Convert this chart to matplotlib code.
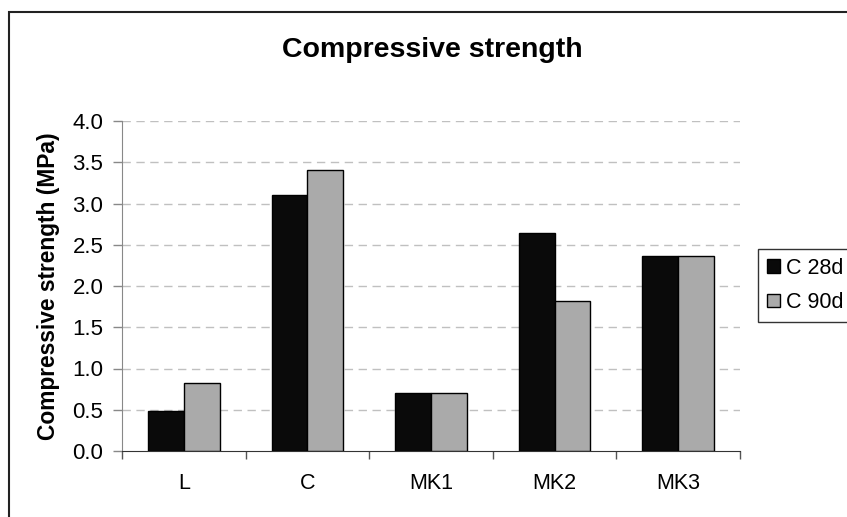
import matplotlib.pyplot as plt
from matplotlib.patches import Rectangle
import numpy as np

plt.rcParams['font.family'] = ['Liberation Sans', 'DejaVu Sans']

categories = ['L', 'C', 'MK1', 'MK2', 'MK3']
c28 = [0.49, 3.10, 0.70, 2.64, 2.36]
c90 = [0.82, 3.41, 0.70, 1.82, 2.36]
series_names = ['C 28d', 'C 90d']

fig = plt.figure(figsize=(8.47, 5.17), dpi=100)
ax = fig.add_axes([122 / 847, 1 - 451 / 517, 618 / 847, 330 / 517])

x = np.arange(len(categories))
w = 0.29
ax.bar(x - w / 2, c28, w, color='#0a0a0a', edgecolor='black', linewidth=1, label=series_names[0], zorder=3)
ax.bar(x + w / 2, c90, w, color='#aaaaaa', edgecolor='black', linewidth=1, label=series_names[1], zorder=3)

ax.set_xlim(-0.5, len(categories) - 0.5)
ax.set_ylim(0, 4.0)
yt = np.arange(0, 4.01, 0.5)
ax.set_yticks(yt)
ax.set_yticklabels([f'{v:.1f}' for v in yt], fontsize=16)
ax.set_xticks(x)
ax.set_xticklabels(categories, fontsize=15.5)
ax.tick_params(axis='x', length=0, pad=16)
ax.set_xticks(np.arange(-0.5, len(categories), 1), minor=True)
ax.tick_params(axis='x', which='minor', length=6, color='#555555', width=1)
ax.tick_params(axis='y', length=6.5, color='#888888', width=1, pad=7)

for v in yt[1:]:
    ax.axhline(v, color='#c0c0c0', linestyle=(0, (6, 4)), linewidth=1, zorder=1)

for s in ['top', 'right']:
    ax.spines[s].set_visible(False)
ax.spines['left'].set_color('#888888')
ax.spines['bottom'].set_color('#333333')

ax.set_ylabel('Compressive strength (MPa)', fontsize=16.4, fontweight='bold', labelpad=9)
fig.text(432 / 847, 1 - 50 / 517, 'Compressive strength', ha='center', va='center',
         fontsize=20.5, fontweight='bold')

# outer chart border (cut off on the right and bottom)
fig.patches.append(Rectangle((9 / 847, -0.1), 2, (517 - 12) / 517 + 0.1,
                             transform=fig.transFigure, fill=False,
                             edgecolor='#222222', linewidth=1.5))

leg = fig.legend(loc='upper left', bbox_to_anchor=(758 / 847, 1 - 249 / 517),
                 fontsize=15.5, handlelength=0.6, handleheight=0.6, handletextpad=0.3,
                 borderpad=0.4, labelspacing=0.62, frameon=True, fancybox=False,
                 borderaxespad=0)
leg.get_frame().set_edgecolor('black')
leg.get_frame().set_linewidth(1)

fig.savefig('out.png', dpi=100)
